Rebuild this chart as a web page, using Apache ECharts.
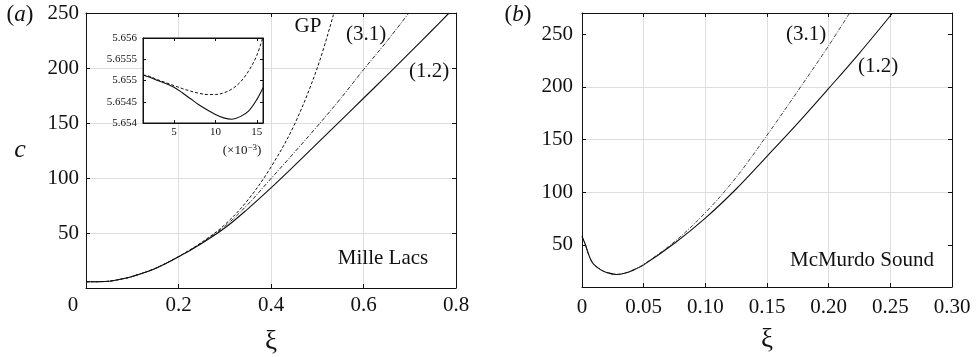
<!DOCTYPE html>
<html>
<head>
<meta charset="utf-8">
<script src="https://cdn.jsdelivr.net/npm/echarts@6/dist/echarts.min.js"></script>
<style>
  html, body { margin: 0; padding: 0; background: #fff; }
  #chart { width: 979px; height: 357px; }
</style>
</head>
<body>
<div id="chart"></div>
<script>
// (a) Mille Lacs: phase speed c against xi
const mlXi12 = [0, 0.025, 0.05, 0.075, 0.1, 0.15, 0.2, 0.25, 0.3, 0.35, 0.4, 0.45, 0.5, 0.55, 0.6, 0.65, 0.7, 0.75, 0.785];
const mlC12  = [5.65, 5.75, 6.2, 8, 10.5, 17.8, 28.3, 40.5, 54.5, 72, 91, 111, 131.5, 152, 172.5, 193, 214, 235, 250];
const mlXi31 = [0, 0.025, 0.05, 0.075, 0.1, 0.15, 0.2, 0.25, 0.3, 0.35, 0.4, 0.45, 0.5, 0.55, 0.6, 0.65, 0.698];
const mlC31  = [5.65, 5.75, 6.2, 8, 10.5, 17.8, 28.4, 41, 56, 76, 99.5, 123, 147, 172, 198.5, 224, 250];
const mlXiGP = [0, 0.025, 0.05, 0.075, 0.1, 0.15, 0.2, 0.25, 0.3, 0.35, 0.4, 0.45, 0.5, 0.536];
const mlCGP  = [5.65, 5.75, 6.2, 8, 10.5, 17.9, 28.6, 41.5, 57.5, 80, 110, 148, 200, 250];

// inset of (a): xi in units of 1e-3
const insetXi     = [1.25, 2, 3, 4, 5, 6, 7, 8, 9, 10, 11, 12, 13, 14, 15, 15.75];
const insetC12    = [5.65513, 5.65508, 5.655, 5.65493, 5.65484, 5.65471, 5.65457, 5.65443, 5.65431, 5.6542, 5.65412, 5.65409, 5.65415, 5.65428, 5.65455, 5.65483];
const insetCDash  = [5.65513, 5.6551, 5.65502, 5.65495, 5.65488, 5.65481, 5.65475, 5.6547, 5.65467, 5.65467, 5.65471, 5.6548, 5.65496, 5.65522, 5.65559, 5.65603];
const insetXTicks = [5, 10, 15];
const insetYTicks = [5.654, 5.6545, 5.655, 5.6555, 5.656];

// (b) McMurdo Sound
const mmXi12 = [0, 0.0025, 0.005, 0.0075, 0.01, 0.015, 0.02, 0.028, 0.035, 0.04, 0.05, 0.075, 0.1, 0.125, 0.15, 0.175, 0.2, 0.225, 0.2515];
const mmC12  = [58, 51, 42, 35, 31, 26.5, 23.8, 21.9, 23.2, 25.2, 31, 51.5, 75.4, 103, 134, 165.5, 198.4, 232, 269.5];
const mmXi31 = [0, 0.0025, 0.005, 0.0075, 0.01, 0.015, 0.02, 0.028, 0.035, 0.04, 0.05, 0.075, 0.1, 0.125, 0.15, 0.175, 0.2, 0.217];
const mmC31  = [58, 51, 42, 35, 31, 26.5, 23.8, 21.9, 23.2, 25.3, 31.5, 53, 80.5, 114, 154, 196, 239, 270];
const mmYTicks = [50, 100, 150, 200, 250];

const FONT = 'Liberation Serif';
const INK = '#111';
const GRIDLINE = '#dedede';
const FS = 21;

const zip = (xs, ys) => xs.map((x, i) => [x, ys[i]]);

// bottom / left axis with labels and grid lines
function mainAxis(gridIndex, pos, min, max, extra) {
  return Object.assign({
    type: 'value', gridIndex, position: pos, min, max,
    axisLine: { show: true, onZero: false, lineStyle: { color: INK, width: 1 } },
    axisTick: { show: true, inside: true, length: 4, lineStyle: { color: INK } },
    axisLabel: { fontFamily: FONT, fontSize: FS, color: INK },
    splitLine: { show: true, showMinLine: false, showMaxLine: false, lineStyle: { color: GRIDLINE, width: 1 } }
  }, extra);
}
// mirrored top / right axis, ticks only
function mirrorAxis(gridIndex, pos, min, max, extra) {
  return Object.assign({
    type: 'value', gridIndex, position: pos, min, max,
    axisLine: { show: true, onZero: false, lineStyle: { color: INK, width: 1 } },
    axisTick: { show: true, inside: true, length: 4, lineStyle: { color: INK } },
    axisLabel: { show: false },
    splitLine: { show: false }
  }, extra);
}

const insetLabel = { fontFamily: FONT, fontSize: 11, color: INK };

function line(data, xi, yi, type, width, z) {
  return {
    type: 'line', data, xAxisIndex: xi, yAxisIndex: yi,
    showSymbol: false, symbol: 'none', smooth: 0.35,
    lineStyle: { color: INK, width, type }, z: z || 2, silent: true
  };
}

function text(str, x, y, size, extra) {
  return {
    type: 'text', x, y, z: 30,
    style: Object.assign({
      text: str, fill: INK, font: size + 'px "' + FONT + '"',
      align: 'center', verticalAlign: 'middle', textAlign: 'center', textVerticalAlign: 'middle'
    }, extra || {})
  };
}
function panelTag(letter, x, y) {
  return text('{n|(}{i|' + letter + '}{n|)}', x, y, 22, {
    rich: {
      n: { fontFamily: FONT, fontSize: 23, fill: INK, color: INK },
      i: { fontFamily: FONT, fontSize: 23, fontStyle: 'italic', fill: INK, color: INK }
    }
  });
}

const dashGP = [3, 2];
const dashDot = [4, 1.5, 1, 1.5];

const chart = echarts.init(document.getElementById('chart'), null, { renderer: 'canvas' });
chart.setOption({
  animation: false,
  backgroundColor: '#fff',
  grid: [
    { left: 86, top: 13, width: 370, height: 275 },
    { left: 582, top: 13, width: 370, height: 274 },
    { left: 143, top: 38, width: 120, height: 85, show: true, backgroundColor: '#fff', borderColor: INK, borderWidth: 1, z: 9 }
  ],
  xAxis: [
    mainAxis(0, 'bottom', 0, 0.8, {
      interval: 0.2,
      axisLabel: { fontFamily: FONT, fontSize: FS, color: INK, margin: 7, formatter: v => v === 0 ? '' : v.toFixed(1) }
    }),
    mirrorAxis(0, 'top', 0, 0.8, { interval: 0.2 }),
    mainAxis(1, 'bottom', 0, 0.3, {
      interval: 0.05,
      axisLabel: { fontFamily: FONT, fontSize: FS, color: INK, margin: 10, formatter: v => v === 0 ? '0' : v.toFixed(2) }
    }),
    mirrorAxis(1, 'top', 0, 0.3, { interval: 0.05 }),
    {
      type: 'value', gridIndex: 2, position: 'bottom', min: 1.25, max: 15.75, z: 10,
      axisLine: { show: true, onZero: false, lineStyle: { color: INK } },
      axisTick: { show: true, inside: true, length: 3, customValues: insetXTicks, lineStyle: { color: INK } },
      axisLabel: Object.assign({ customValues: insetXTicks, margin: 4 }, insetLabel),
      splitLine: { show: false }
    },
    mirrorAxis(2, 'top', 1.25, 15.75, { z: 10, axisTick: { show: true, inside: true, length: 3, customValues: insetXTicks, lineStyle: { color: INK } } })
  ],
  yAxis: [
    mainAxis(0, 'left', 0, 250, {
      interval: 50,
      axisLabel: { fontFamily: FONT, fontSize: FS, color: INK, margin: 7, formatter: v => v === 0 ? '' : String(v) }
    }),
    mirrorAxis(0, 'right', 0, 250, { interval: 50 }),
    mainAxis(1, 'left', 10, 270, {
      axisTick: { show: true, inside: true, length: 4, customValues: mmYTicks, lineStyle: { color: INK } },
      axisLabel: { fontFamily: FONT, fontSize: FS, color: INK, margin: 9, customValues: mmYTicks }
    }),
    mirrorAxis(1, 'right', 10, 270, { axisTick: { show: true, inside: true, length: 4, customValues: mmYTicks, lineStyle: { color: INK } } }),
    {
      type: 'value', gridIndex: 2, position: 'left', min: 5.654, max: 5.656, z: 10,
      axisLine: { show: true, onZero: false, lineStyle: { color: INK } },
      axisTick: { show: true, inside: true, length: 3, customValues: insetYTicks, lineStyle: { color: INK } },
      axisLabel: Object.assign({ customValues: insetYTicks, margin: 6, formatter: v => String(+v.toFixed(4)) }, insetLabel),
      splitLine: { show: false }
    },
    mirrorAxis(2, 'right', 5.654, 5.656, { z: 10, axisTick: { show: true, inside: true, length: 3, customValues: insetYTicks, lineStyle: { color: INK } } })
  ],
  series: [
    line(zip(mlXi12, mlC12), 0, 0, 'solid', 1.1),
    line(zip(mlXi31, mlC31), 0, 0, dashDot, 0.9),
    line(zip(mlXiGP, mlCGP), 0, 0, dashGP, 1),
    line(zip(mmXi12, mmC12), 2, 2, 'solid', 1.1),
    line(zip(mmXi31, mmC31), 2, 2, dashDot, 0.8),
    line(zip(insetXi, insetC12), 4, 4, 'solid', 1.1, 11),
    line(zip(insetXi, insetCDash), 4, 4, [3, 2], 1, 11)
  ],
  graphic: [
    panelTag('a', 20, 15),
    panelTag('b', 518, 15),
    text('c', 20, 150, 26, { font: 'italic 26px "' + FONT + '"' }),
    text('0', 73, 305, FS),
    text('ξ', 271, 342, 27),
    text('ξ', 767, 340, 27),
    text('GP', 308, 26, FS),
    text('(3.1)', 366, 34, FS),
    text('(1.2)', 429, 71, FS),
    text('Mille Lacs', 383, 258, FS),
    text('(3.1)', 806, 34, FS),
    text('(1.2)', 878, 66, FS),
    text('McMurdo Sound', 862, 260, FS),
    text('{n|(×10}{s|−3}{n|)}', 242, 151, 13, {
      rich: {
        n: { fontFamily: FONT, fontSize: 13, fill: INK, color: INK },
        s: { fontFamily: FONT, fontSize: 9, fill: INK, color: INK, padding: [0, 0, 7, 0] }
      }
    })
  ]
});
</script>
</body>
</html>
